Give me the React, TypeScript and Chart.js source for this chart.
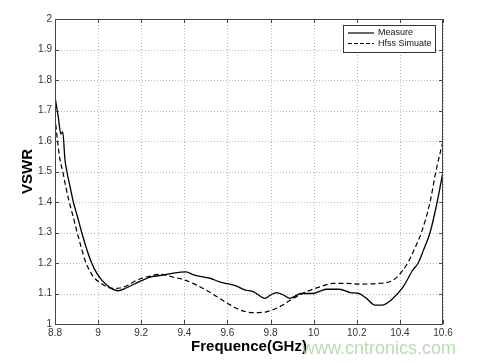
import React, { useEffect, useRef } from "react";
import { Chart, registerables } from "chart.js";

Chart.register(...registerables);

// ---- data ----
const measureFreq = [
  8.8, 8.815, 8.827, 8.836, 8.846, 8.855, 8.87, 8.885, 8.905, 8.924, 8.945, 8.97, 8.995,
  9.017, 9.04, 9.065, 9.094, 9.13, 9.17, 9.21, 9.25, 9.3, 9.35, 9.408, 9.44, 9.48, 9.52,
  9.56, 9.6, 9.64, 9.68, 9.72, 9.774, 9.8, 9.828, 9.86, 9.89, 9.92, 9.944, 9.998, 10.03,
  10.06, 10.12, 10.17, 10.21, 10.245, 10.284, 10.32, 10.36, 10.415, 10.46, 10.485, 10.51,
  10.54, 10.573, 10.6,
];
const measureVswr = [
  1.745, 1.68, 1.623, 1.63, 1.54, 1.5, 1.45, 1.4, 1.35, 1.3, 1.25, 1.2, 1.165,
  1.144, 1.128, 1.115, 1.109, 1.118, 1.132, 1.145, 1.155, 1.16, 1.167, 1.171, 1.162, 1.155, 1.15,
  1.139, 1.132, 1.125, 1.112, 1.106, 1.084, 1.095, 1.103, 1.095, 1.084, 1.094, 1.1, 1.1, 1.108,
  1.114, 1.114, 1.103, 1.1, 1.084, 1.062, 1.062, 1.079, 1.122, 1.177, 1.2, 1.243,
  1.3, 1.4, 1.5,
];
const simFreq = [
  8.8, 8.812, 8.823, 8.836, 8.85, 8.866, 8.885, 8.903, 8.922, 8.944, 8.978, 9.01, 9.04,
  9.07, 9.1, 9.14, 9.18, 9.23, 9.287, 9.34, 9.403, 9.45, 9.5, 9.55, 9.6, 9.658, 9.72,
  9.78, 9.844, 9.905, 9.967, 10.03, 10.09, 10.15, 10.21, 10.3, 10.37, 10.415, 10.44, 10.47,
  10.5, 10.54, 10.567, 10.6,
];
const simVswr = [
  1.68, 1.598, 1.54, 1.5, 1.45, 1.4, 1.35, 1.3, 1.25, 1.2, 1.155, 1.135, 1.122,
  1.117, 1.118, 1.128, 1.144, 1.155, 1.163, 1.155, 1.144, 1.13, 1.112, 1.09, 1.068, 1.046, 1.037,
  1.04, 1.057, 1.084, 1.106, 1.122, 1.133, 1.133, 1.131, 1.133, 1.144, 1.177, 1.205, 1.25,
  1.3, 1.4, 1.5, 1.6,
];
const xTickValues = [8.8, 9, 9.2, 9.4, 9.6, 9.8, 10, 10.2, 10.4, 10.6];
const yTickValues = [1, 1.1, 1.2, 1.3, 1.4, 1.5, 1.6, 1.7, 1.8, 1.9, 2];
const seriesNames = ["Measure", "Hfss Simuate"];
const xTitle = "Frequence(GHz)";
const yTitle = "VSWR";
const watermark = "www.cntronics.com";

const FONT = '"Liberation Sans", Arial, sans-serif';
const DASH = [5, 3];

const gridPlugin = {
  id: "dottedGrid",
  beforeDatasetsDraw(chart: any) {
    const { ctx, chartArea, scales } = chart;
    const { left, right, top, bottom } = chartArea;
    ctx.save();
    ctx.strokeStyle = "#b8b8b8";
    ctx.lineWidth = 1;
    ctx.setLineDash([1, 2]);
    ctx.beginPath();
    xTickValues.forEach((v) => {
      const px = Math.round(scales.x.getPixelForValue(v)) + 0.5;
      ctx.moveTo(px, top);
      ctx.lineTo(px, bottom);
    });
    yTickValues.forEach((v) => {
      const py = Math.round(scales.y.getPixelForValue(v)) + 0.5;
      ctx.moveTo(left, py);
      ctx.lineTo(right, py);
    });
    ctx.stroke();
    ctx.restore();
  },
};

const overlayPlugin = {
  id: "overlay",
  afterDraw(chart: any) {
    const { ctx, chartArea, scales } = chart;
    const { left, right, top, bottom } = chartArea;
    const xs = scales.x;
    const ys = scales.y;
    ctx.save();
    // frame
    ctx.strokeStyle = "#444";
    ctx.lineWidth = 1;
    ctx.setLineDash([]);
    ctx.strokeRect(Math.round(left) + 0.5, Math.round(top) + 0.5, Math.round(right - left) - 1, Math.round(bottom - top));
    // inward tick marks
    ctx.beginPath();
    xTickValues.forEach((v) => {
      const px = Math.round(xs.getPixelForValue(v)) + 0.5;
      ctx.moveTo(px, bottom);
      ctx.lineTo(px, bottom - 4);
      ctx.moveTo(px, top);
      ctx.lineTo(px, top + 4);
    });
    yTickValues.forEach((v) => {
      const py = Math.round(ys.getPixelForValue(v)) + 0.5;
      ctx.moveTo(left, py);
      ctx.lineTo(left + 4, py);
      ctx.moveTo(right, py);
      ctx.lineTo(right - 4, py);
    });
    ctx.stroke();

    // legend
    const bR = right - 8;
    const bL = bR - 92;
    const bT = top + 6;
    const bB = top + 33;
    ctx.fillStyle = "#fff";
    ctx.fillRect(bL, bT, bR - bL, bB - bT);
    ctx.strokeStyle = "#333";
    ctx.strokeRect(bL + 0.5, bT + 0.5, bR - bL, bB - bT);
    const rows = [bT + 8, bT + 18.5];
    ctx.font = `9px ${FONT}`;
    ctx.textBaseline = "middle";
    ctx.textAlign = "left";
    seriesNames.forEach((name, i) => {
      ctx.strokeStyle = "#000";
      ctx.lineWidth = 1.2;
      ctx.setLineDash(i === 0 ? [] : [4, 2]);
      ctx.beginPath();
      ctx.moveTo(bL + 5, rows[i]);
      ctx.lineTo(bL + 31, rows[i]);
      ctx.stroke();
      ctx.setLineDash([]);
      ctx.fillStyle = "#111";
      ctx.fillText(name, bL + 35, rows[i]);
    });

    // axis titles
    ctx.fillStyle = "#000";
    ctx.font = `bold 15px ${FONT}`;
    ctx.textAlign = "center";
    ctx.textBaseline = "middle";
    ctx.fillText(xTitle, (left + right) / 2, 347);
    ctx.save();
    ctx.translate(28, (top + bottom) / 2);
    ctx.rotate(-Math.PI / 2);
    ctx.fillText(yTitle, 0, 0);
    ctx.restore();

    // watermark
    ctx.font = `18px ${FONT}`;
    ctx.textAlign = "left";
    ctx.fillStyle = "rgba(160, 210, 150, 0.75)";
    ctx.fillText(watermark, 302, 349);
    ctx.restore();
  },
};

export default function App() {
  const canvasRef = useRef<HTMLCanvasElement | null>(null);

  useEffect(() => {
    document.body.style.margin = "0";
    const canvas = canvasRef.current;
    if (!canvas) return;
    const chart = new Chart(canvas, {
      type: "line",
      data: {
        datasets: [
          {
            label: seriesNames[0],
            data: measureFreq.map((f, i) => ({ x: f, y: measureVswr[i] })),
            borderColor: "#000",
            borderWidth: 1.3,
            pointRadius: 0,
            cubicInterpolationMode: "monotone",
            fill: false,
          },
          {
            label: seriesNames[1],
            data: simFreq.map((f, i) => ({ x: f, y: simVswr[i] })),
            borderColor: "#000",
            borderWidth: 1.2,
            borderDash: DASH,
            pointRadius: 0,
            cubicInterpolationMode: "monotone",
            fill: false,
          },
        ],
      },
      options: {
        animation: false,
        responsive: false,
        devicePixelRatio: 1,
        layout: { padding: { top: 19, right: 36, left: 0, bottom: 0 } },
        plugins: {
          legend: { display: false },
          tooltip: { enabled: false },
        },
        scales: {
          x: {
            type: "linear",
            min: 8.8,
            max: 10.6,
            afterBuildTicks: (s: any) => {
              s.ticks = xTickValues.map((v) => ({ value: v }));
            },
            afterFit: (s: any) => {
              s.height = 39;
            },
            ticks: {
              autoSkip: false,
              maxRotation: 0,
              padding: 3,
              color: "#333",
              font: { size: 10, family: FONT },
              callback: (v: any) => String(Math.round(Number(v) * 10) / 10),
            },
            grid: { display: false, drawTicks: false },
            border: { display: false },
          },
          y: {
            type: "linear",
            min: 1,
            max: 2,
            afterBuildTicks: (s: any) => {
              s.ticks = yTickValues.map((v) => ({ value: v }));
            },
            afterFit: (s: any) => {
              s.width = 55;
            },
            ticks: {
              autoSkip: false,
              padding: 3,
              color: "#333",
              font: { size: 10, family: FONT },
              callback: (v: any) => String(Math.round(Number(v) * 10) / 10),
            },
            grid: { display: false, drawTicks: false },
            border: { display: false },
          },
        },
      },
      plugins: [gridPlugin, overlayPlugin],
    } as any);
    return () => chart.destroy();
  }, []);

  return (
    <div style={{ width: 479, height: 363, background: "#fff" }}>
      <canvas ref={canvasRef} width={479} height={363} style={{ display: "block" }} />
    </div>
  );
}
